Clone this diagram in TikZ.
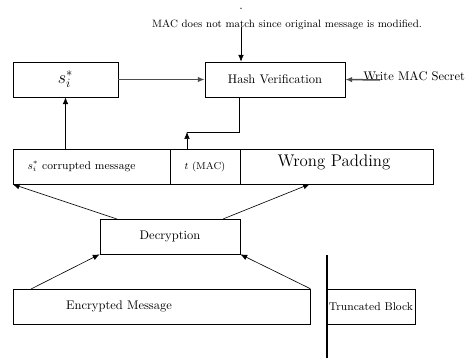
\documentclass[tikz,border=0pt]{standalone}
\usetikzlibrary{arrows.meta}
\begin{document}
\begin{tikzpicture}[x=0.8pt, y=-0.8pt,
  box/.style={draw, line width=0.5pt, minimum height=28pt, inner sep=0pt, anchor=center},
  arr/.style={-{Latex[length=5.5pt,width=4.5pt]}, line width=0.5pt},
  heavy/.style={-{Latex[length=5.5pt,width=4.5pt]}, line width=1.2pt, draw=black!70}]
\useasboundingbox (0,0) rectangle (468,358);

% upper row
\node[box, minimum width=84pt] (sbox) at (65.5,79.5) {\Large $s_i^*$};
\node[box, minimum width=112pt] (hash) at (275,79.5) {Hash Verification};

% decrypted record: message | MAC | padding
\node[box, minimum width=125.6pt,
      label={[xshift=-8pt]center:\small $s_i^*$ corrupted message}] (cm) at (91.5,166.5) {};
\node[box, minimum width=56pt] (tmac) at (205,166.5) {\footnotesize $t$ (MAC)};
\node[box, minimum width=154.4pt] (pad) at (336.5,166.5) {};
\node[font=\fontsize{13.5}{16}\selectfont] (padt) at (334,162) {Wrong Padding};

% decryption and ciphertext
\node[box, minimum width=112pt] (dec) at (170,236.5) {Decryption};
\node[box, minimum width=237.6pt,
      label={[xshift=-34pt]center:Encrypted Message}] (enc) at (161.5,306.5) {};
\node[box, minimum width=70.4pt] (trunc) at (371,306.5) {\small Truncated Block};
\draw[line width=1.5pt] (327,255) -- (327,358);

% annotations
\node[inner sep=0pt] (dot) at (241,9) {.};
\node[font=\fontsize{8.5}{10}\selectfont] (note) at (287,25) {MAC does not match since original message is modified.};
\node[anchor=west, inner sep=0pt] (secret) at (363,76) {Write MAC Secret};

% connectors
\coordinate (noteend) at (241,27);
\draw[arr] (noteend) -- (noteend |- hash.north);
\draw[heavy] (sbox.east) -- (hash.west);
\coordinate (secretend) at (380,80);
\draw[heavy] (secretend) -- (hash.east);
\draw[arr] (sbox.south |- cm.north) -- (sbox.south);
\coordinate (macup) at (187,132);
\draw[line width=0.5pt] (hash.south -| pad.north west) |- (macup);
\draw[arr] (macup |- tmac.north) -- (macup);
\draw[arr] (117,219) -- (cm.south west);
\draw[arr] (223,219) -- (310,184);
\draw[arr] (31,289) -- (dec.south west);
\draw[arr] (enc.north east) -- (dec.south east);
\end{tikzpicture}
\end{document}
